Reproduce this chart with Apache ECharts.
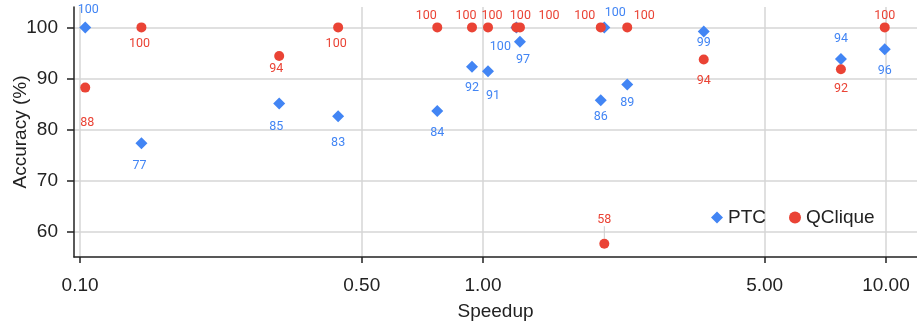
<!DOCTYPE html>
<html>
<head>
<meta charset="utf-8">
<script src="https://cdn.jsdelivr.net/npm/echarts@6/dist/echarts.min.js"></script>
<style>
  html, body { margin: 0; padding: 0; background: #fff; }
  #chart { width: 917px; height: 326px; }
</style>
</head>
<body>
<div id="chart"></div>
<script>
// speedup of each test case (shared by both methods)
const speedup = [0.103, 0.142, 0.312, 0.437, 0.77, 0.939, 1.029, 1.21, 1.235, 1.96, 2.0, 2.28, 3.53, 7.73, 9.93];
// accuracy (%)
const ptcAccuracy = [100, 77.3, 85.1, 82.6, 83.6, 92.3, 91.4, 100, 97.2, 85.7, 100, 88.8, 99.2, 93.8, 95.7];
const qcliqueAccuracy = [88.2, 100, 94.4, 100, 100, 100, 100, 100, 100, 100, 57.6, 100, 93.7, 91.8, 100];
const xTicks = [0.1, 0.5, 1, 5, 10];
const yTicks = [60, 70, 80, 90, 100];

// label placement (label centre relative to the marker), to keep labels apart
const ptcLabelShift = [[3, -18], [-2, 23], [-3, 23], [0, 27], [0, 22], [0, 21], [5, 25], [-16, 19],
  [3, 18], [0, 17], [11, -15], [0, 18], [0, 11], [0, -20], [0, 22]];
const qcliqueLabelShift = [[2, 35], [-2, 16], [-3, 13], [-2, 16], [-11, -12], [-6, -12], [4, -12], [4, -12],
  [29, -12], [-16, -12], [0, -24], [17, -12], [0, 21], [0, 20], [0, -12]];

const BLUE = '#4285f4';
const RED = '#ea4335';
const AXIS_FONT = 'Liberation Sans, Arial, sans-serif';
const TEXT = '#222';

const chart = echarts.init(document.getElementById('chart'));

function makeSeries(name, values, shifts, color, symbol, size) {
  return {
    name: name,
    type: 'scatter',
    symbol: symbol,
    symbolSize: size,
    itemStyle: { color: color, opacity: 1 },
    data: speedup.map((x, i) => ({
      value: [x, values[i]],
      // only the far-moved low point gets a leader line
      labelLine: { show: values[i] < 60 }
    })),
    label: {
      show: true,
      position: 'inside',
      color: color,
      fontFamily: 'Roboto, sans-serif',
      fontSize: 12.5,
      formatter: p => Math.round(p.value[1])
    },
    labelLayout: p => ({ dx: shifts[p.dataIndex][0], dy: shifts[p.dataIndex][1], hideOverlap: false }),
    labelLine: { lineStyle: { color: '#ccc', width: 1 } },
    emphasis: { disabled: true }
  };
}

const option = {
  animation: false,
  grid: { left: 74, right: 0, top: 7, bottom: 69, containLabel: false, outerBoundsMode: 'none' },
  legend: {
    left: 706,
    top: 203,
    itemGap: 23,
    itemWidth: 12,
    itemHeight: 12,
    textStyle: { fontFamily: AXIS_FONT, fontSize: 19, color: TEXT },
    data: [
      { name: 'PTC', icon: 'diamond', itemStyle: { color: BLUE } },
      { name: 'QClique', icon: 'circle', itemStyle: { color: RED } }
    ]
  },
  xAxis: {
    type: 'log',
    logBase: 10,
    min: 0.0966,
    max: 11.94,
    name: 'Speedup',
    nameLocation: 'middle',
    nameGap: 45,
    nameMoveOverlap: false,
    nameTextStyle: { fontFamily: AXIS_FONT, fontSize: 19, color: TEXT },
    axisLine: { lineStyle: { color: TEXT, width: 1.5 } },
    axisTick: { show: true, length: 6, customValues: xTicks, lineStyle: { color: TEXT, width: 1.5 } },
    axisLabel: {
      customValues: xTicks,
      margin: 19,
      fontFamily: AXIS_FONT,
      fontSize: 19,
      color: TEXT,
      formatter: v => Number(v).toFixed(2)
    },
    splitLine: { show: true, lineStyle: { color: '#d6d6d6', width: 1.5 } }
  },
  yAxis: {
    type: 'value',
    min: 55,
    max: 104,
    name: 'Accuracy (%)',
    nameLocation: 'middle',
    nameGap: 44,
    nameMoveOverlap: false,
    nameTextStyle: { fontFamily: AXIS_FONT, fontSize: 19, color: TEXT },
    axisLine: { show: true, lineStyle: { color: TEXT, width: 1.5 } },
    axisTick: { show: true, length: 7, customValues: yTicks, lineStyle: { color: TEXT, width: 1.5 } },
    axisLabel: {
      customValues: yTicks,
      margin: 16,
      fontFamily: AXIS_FONT,
      fontSize: 19,
      color: TEXT
    },
    splitLine: { show: true, lineStyle: { color: '#d6d6d6', width: 1.5 } }
  },
  series: [
    makeSeries('PTC', ptcAccuracy, ptcLabelShift, BLUE, 'diamond', 12),
    makeSeries('QClique', qcliqueAccuracy, qcliqueLabelShift, RED, 'circle', 10)
  ]
};

chart.setOption(option);
window.addEventListener('resize', () => chart.resize());
</script>
</body>
</html>
